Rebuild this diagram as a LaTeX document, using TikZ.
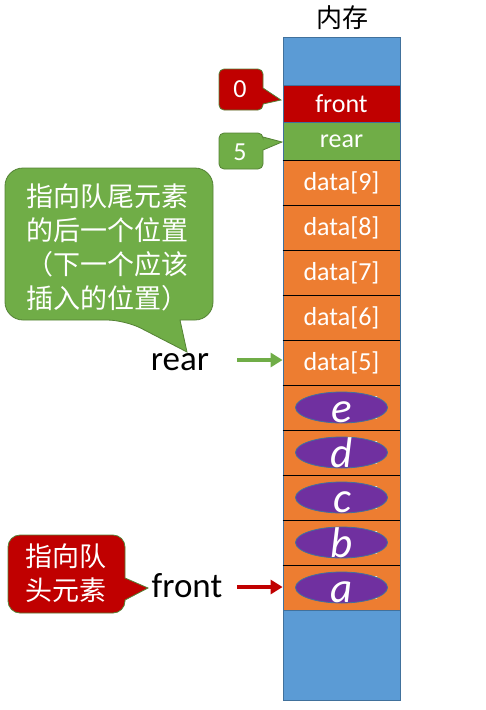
\documentclass[tikz,border=0pt]{standalone}
\usepackage{fontspec}
\setmainfont{Carlito}
\newfontfamily\cjk{Noto Sans CJK SC}
\usetikzlibrary{arrows.meta,shapes.geometric}
\definecolor{memblue}{HTML}{5B9BD5}
\definecolor{memborder}{HTML}{41719C}
\definecolor{fred}{HTML}{C00000}
\definecolor{rgreen}{HTML}{70AD47}
\definecolor{dorange}{HTML}{ED7D31}
\definecolor{epurple}{HTML}{7030A0}
\definecolor{cborder}{HTML}{548235}
\begin{document}
\begin{tikzpicture}[x=1pt,y=-1pt,
  cell/.style={rectangle, draw=memborder, line width=0.8pt, minimum width=117pt, inner sep=0pt, text=white, font=\fontsize{26}{30}\selectfont},
  datacell/.style={cell, fill=dorange, minimum height=45pt},
  sep/.style={black, line width=1.3pt},
  elem/.style={ellipse, fill=epurple, draw=memborder, line width=0.8pt, minimum width=92pt, minimum height=31pt, inner sep=0pt},
  letter/.style={text=white, anchor=base, font=\fontsize{43}{46}\selectfont\itshape},
  callout/.style={draw=cborder, line width=0.8pt},
  calltext/.style={text=white, font=\cjk\fontsize{27}{34}\selectfont, align=left, inner sep=0pt},
  numtext/.style={text=white, font=\fontsize{26}{30}\selectfont, inner sep=0pt},
  ptrlabel/.style={font=\fontsize{35}{40}\selectfont, inner sep=0pt}
]
\useasboundingbox (0,0) rectangle (485,710);
% title
\node[font=\cjk\fontsize{26}{30}\selectfont, inner sep=0pt] (title) at (342,18) {内存};
% memory column
\node[cell, fill=memblue, minimum height=48pt] (topblue) at (341.5,61) {};
\node[cell, fill=fred, minimum height=37pt] (fcell) at (341.5,103.5) {front};
\node[cell, fill=rgreen, minimum height=38pt] (rcell) at (341.5,141) {rear};
\node[datacell] (d9) at (341.5,182.5) {data[9]};
\node[datacell] (d8) at (341.5,227.5) {data[8]};
\node[datacell] (d7) at (341.5,272.5) {data[7]};
\node[datacell] (d6) at (341.5,317.5) {data[6]};
\node[datacell] (d5) at (341.5,362.5) {data[5]};
\node[datacell] (d4) at (341.5,407.5) {data[4]};
\node[datacell] (d3) at (341.5,452.5) {data[3]};
\node[datacell] (d2) at (341.5,497.5) {data[2]};
\node[datacell] (d1) at (341.5,542.5) {data[1]};
\node[datacell] (d0) at (341.5,587.5) {data[0]};
\node[cell, fill=memblue, minimum height=90pt] (botblue) at (341.5,655) {};
% separators
\draw[sep] (rcell.south west) -- (rcell.south east);
\foreach \c in {d9,d8,d7,d6,d5,d4,d3,d2,d1}{
  \draw[sep] (\c.south west) -- (\c.south east);
}
% elements
\node[elem] (ee) at (d4) {};
\node[elem] (ed) at (d3) {};
\node[elem] (ec) at (d2) {};
\node[elem] (eb) at (d1) {};
\node[elem] (ea) at (d0) {};
\node[letter] (le) at (342,422) {e};
\node[letter] (ld) at (342,467) {d};
\node[letter] (lc) at (342,512) {c};
\node[letter] (lb) at (342,557) {b};
\node[letter] (la) at (342,602) {a};
% callout 0
\draw[callout, fill=fred] (263,88) [rounded corners=5pt] -- (263,69) -- (219,69) -- (219,110) -- (263,110) [sharp corners] -- (263,104) -- (281,100) -- cycle;
\node[numtext] (zero) at (240,89) {0};
% callout 5
\draw[callout, fill=rgreen] (263,137) [rounded corners=5pt] -- (263,133) -- (219,133) -- (219,169) -- (263,169) [sharp corners] -- (263,150) -- (282,142) -- cycle;
\node[numtext] (five) at (240,152) {5};
% big green callout
\draw[callout, fill=rgreen] (180,320) [rounded corners=18pt] -- (213,320) -- (213,168) -- (5,168) -- (5,320) -- (125,320) [sharp corners] -- (187,352) -- cycle;
\node[calltext] (rearnote) at (108,247) {指向队尾元素\\的后一个位置\\（下一个应该\\插入的位置）};
% red callout
\draw[callout, fill=fred] (125,600) [rounded corners=12pt] -- (125,613) -- (8,613) -- (8,535) -- (125,535) [sharp corners] -- (125,578) -- (148,588) -- cycle;
\node[calltext] (frontnote) at (66,573) {指向队\\头元素};
% pointer labels
\node[ptrlabel, anchor=base] (rearlbl) at (180,370) {rear};
\node[ptrlabel, anchor=base] (frontlbl) at (187,597) {front};
\coordinate (ra) at (237,360);
\coordinate (fa) at (237,587);
\draw[draw=rgreen, line width=4pt, -{Triangle[length=12pt,width=14pt]}] (ra) -- (d5.west |- ra);
\draw[draw=fred, line width=4pt, -{Triangle[length=12pt,width=14pt]}] (fa) -- (d0.west |- fa);
\end{tikzpicture}
\end{document}
